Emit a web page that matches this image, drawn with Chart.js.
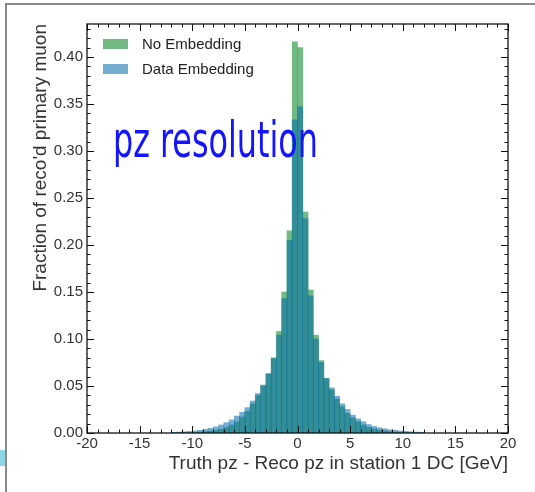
<!DOCTYPE html>
<html>
<head>
<meta charset="utf-8">
<script src="https://cdn.jsdelivr.net/npm/chart.js@4"></script>
<style>
  body { margin: 0; background: #fff; }
  #wrap { width: 535px; height: 492px; }
</style>
</head>
<body>
<div id="wrap"><canvas id="myChart" width="535" height="492"></canvas></div>
<script>
// bin centres (GeV), 0.5 GeV wide bins
const binCenters = [
  -11.75, -11.25, -10.75, -10.25, -9.75, -9.25, -8.75, -8.25, -7.75, -7.25, -6.75, -6.25,
  -5.75, -5.25, -4.75, -4.25, -3.75, -3.25, -2.75, -2.25, -1.75, -1.25, -0.75, -0.25,
  0.25, 0.75, 1.25, 1.75, 2.25, 2.75, 3.25, 3.75, 4.25, 4.75, 5.25, 5.75,
  6.25, 6.75, 7.25, 7.75, 8.25, 8.75, 9.25, 9.75, 10.25, 10.75, 11.25, 11.75
];

const noEmbedding = [
  0.0002, 0.0003, 0.0004, 0.0005, 0.0007, 0.001, 0.0014, 0.002, 0.0028, 0.004, 0.0058, 0.0085,
  0.012, 0.017, 0.023, 0.031, 0.040, 0.050, 0.063, 0.080, 0.108, 0.150, 0.215, 0.416,
  0.410, 0.235, 0.152, 0.104, 0.077, 0.058, 0.046, 0.036, 0.028, 0.021, 0.016, 0.012,
  0.0085, 0.006, 0.0043, 0.003, 0.0021, 0.0015, 0.001, 0.0007, 0.0005, 0.0004, 0.0003, 0.0002
];

const dataEmbedding = [
  0.0008, 0.001, 0.0013, 0.0017, 0.0022, 0.0029, 0.0038, 0.005, 0.0065, 0.0085, 0.011, 0.014,
  0.018, 0.022, 0.027, 0.034, 0.042, 0.051, 0.063, 0.079, 0.104, 0.143, 0.205, 0.333,
  0.347, 0.228, 0.146, 0.100, 0.075, 0.058, 0.048, 0.039, 0.031, 0.025, 0.019, 0.015,
  0.012, 0.009, 0.007, 0.0055, 0.0045, 0.0035, 0.0028, 0.0022, 0.0017, 0.0013, 0.001, 0.0008
];

const seriesNames = ['No Embedding', 'Data Embedding'];
const greenFill = 'rgba(54, 156, 78, 0.7)';
const blueFill = 'rgba(0, 106, 170, 0.55)';

const toPoints = vals => binCenters.map((c, i) => ({ x: c, y: vals[i] }));

// frame, inward ticks, legend and the hand written note
const decorations = {
  id: 'decorations',
  beforeDraw(chart) {
    const ctx = chart.ctx;
    ctx.save();
    ctx.fillStyle = '#fff';
    ctx.fillRect(0, 0, chart.width, chart.height);
    ctx.restore();
  },
  afterDraw(chart) {
    const { ctx, chartArea: a } = chart;
    const x = chart.scales.x, y = chart.scales.y;
    ctx.save();

    // outer page border
    ctx.strokeStyle = '#8a8a8a';
    ctx.lineWidth = 2;
    ctx.beginPath();
    ctx.moveTo(6, chart.height);
    ctx.lineTo(6, 4);
    ctx.lineTo(chart.width, 4);
    ctx.stroke();
    ctx.fillStyle = '#8fd3e6';
    ctx.fillRect(0, 450, 5, 16);

    // plot box
    ctx.strokeStyle = '#111';
    ctx.lineWidth = 1.3;
    ctx.strokeRect(a.left, a.top, a.right - a.left, a.bottom - a.top);

    // ticks pointing inward on all four sides
    ctx.lineWidth = 1;
    ctx.beginPath();
    for (let v = -20; v <= 20; v += 1) {
      const px = Math.round(x.getPixelForValue(v)) + 0.5;
      const len = v % 5 === 0 ? 7 : 3.5;
      ctx.moveTo(px, a.bottom); ctx.lineTo(px, a.bottom - len);
      ctx.moveTo(px, a.top); ctx.lineTo(px, a.top + len);
    }
    for (let k = 0; k <= 43; k++) {
      const py = Math.round(y.getPixelForValue(k / 100)) + 0.5;
      const len = k % 5 === 0 ? 7 : 3.5;
      ctx.moveTo(a.left, py); ctx.lineTo(a.left + len, py);
      ctx.moveTo(a.right, py); ctx.lineTo(a.right - len, py);
    }
    ctx.stroke();

    // legend in the upper left corner
    ctx.font = '15px "Liberation Sans", Arial, sans-serif';
    ctx.textBaseline = 'middle';
    chart.data.datasets.forEach((ds, i) => {
      const cy = 44 + i * 25;
      ctx.fillStyle = ds.backgroundColor;
      ctx.fillRect(103, cy - 5, 25, 10);
      ctx.fillStyle = '#222';
      ctx.fillText(ds.label, 142, cy + 1);
    });

    // hand written label
    ctx.fillStyle = '#1414ff';
    ctx.textBaseline = 'alphabetic';
    ctx.font = '50px "Liberation Sans Narrow", "DejaVu Sans Condensed", sans-serif';
    ctx.fillText('pz resolution', 113, 157, 205);

    ctx.restore();
  }
};

new Chart(document.getElementById('myChart'), {
  type: 'bar',
  data: {
    datasets: [
      {
        label: seriesNames[0],
        data: toPoints(noEmbedding),
        backgroundColor: greenFill,
        borderWidth: 0,
        order: 2
      },
      {
        label: seriesNames[1],
        data: toPoints(dataEmbedding),
        backgroundColor: blueFill,
        borderWidth: 0,
        order: 1
      }
    ]
  },
  options: {
    responsive: false,
    animation: false,
    layout: { padding: { top: 24, right: 27, left: 0, bottom: 0 } },
    datasets: {
      bar: { grouped: false, barPercentage: 1, categoryPercentage: 1 }
    },
    scales: {
      x: {
        type: 'linear',
        min: -20,
        max: 20,
        offset: false,
        grid: { display: false, drawTicks: false },
        border: { display: false },
        ticks: {
          stepSize: 5,
          maxRotation: 0,
          autoSkip: false,
          padding: 2,
          color: '#333',
          font: { size: 15, family: 'Liberation Sans' }
        },
        title: {
          display: true,
          text: 'Truth pz - Reco pz in station 1 DC [GeV]',
          align: 'end',
          color: '#333',
          padding: { top: 0, bottom: 17 },
          font: { size: 19, family: 'Liberation Sans' }
        },
        afterFit: s => { s.height = 59; }
      },
      y: {
        min: 0,
        max: 0.435,
        grid: { display: false, drawTicks: false },
        border: { display: false },
        ticks: {
          stepSize: 0.05,
          includeBounds: false,
          padding: 4,
          color: '#333',
          font: { size: 15, family: 'Liberation Sans' },
          callback: v => v.toFixed(2)
        },
        title: {
          display: true,
          text: "Fraction of reco'd primary muon",
          align: 'end',
          color: '#333',
          padding: { top: 29, bottom: 0 },
          font: { size: 19, family: 'Liberation Sans' }
        },
        afterFit: s => { s.width = 87; }
      }
    },
    plugins: {
      legend: { display: false },
      tooltip: { enabled: false }
    }
  },
  plugins: [decorations]
});
</script>
</body>
</html>
